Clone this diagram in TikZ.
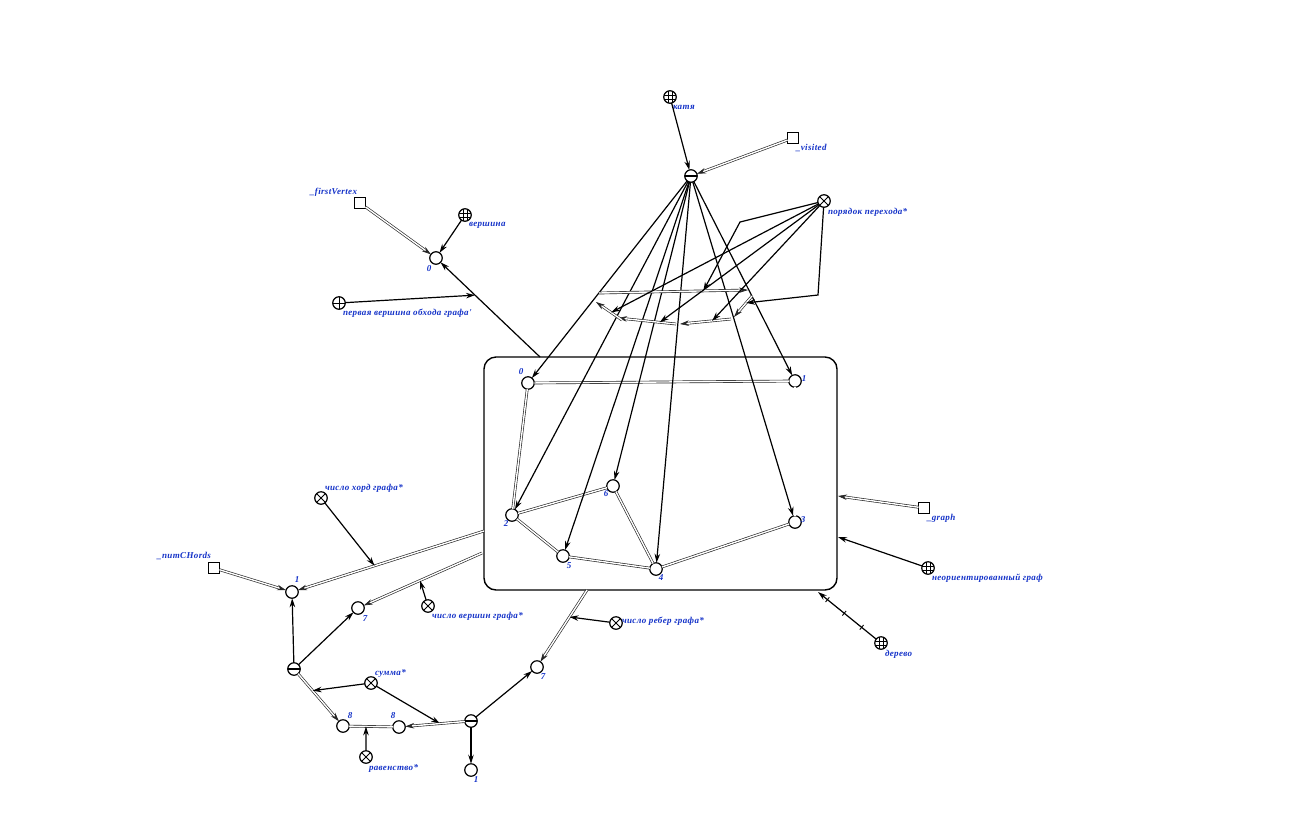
\documentclass[tikz,border=0pt]{standalone}
\usepackage{fontspec}
\setmainfont{Liberation Serif}
\newfontfamily\lblfont[LetterSpace=4]{Liberation Serif}
\usetikzlibrary{arrows.meta,calc,decorations.markings}
\definecolor{lblblue}{RGB}{20,50,200}

\tikzset{
  every node/.style={inner sep=0pt, outer sep=0pt},
  vtx/.style={circle, draw, line width=1.2pt, minimum size=12.5pt, fill=white},
  sq/.style={rectangle, draw, line width=1.2pt, minimum size=11pt, fill=white},
  xcirc/.style={vtx, path picture={
      \draw[line width=0.9pt]
        (path picture bounding box.north west)--(path picture bounding box.south east)
        (path picture bounding box.north east)--(path picture bounding box.south west);}},
  pcirc/.style={vtx, path picture={
      \draw[line width=0.9pt]
        (path picture bounding box.north)--(path picture bounding box.south)
        (path picture bounding box.west)--(path picture bounding box.east);}},
  mcirc/.style={vtx, path picture={
      \draw[line width=1.1pt]
        (path picture bounding box.west)--(path picture bounding box.east);}},
  gcirc/.style={vtx, path picture={
      \draw[line width=0.6pt]
        ([xshift=-2pt]path picture bounding box.north)--([xshift=-2pt]path picture bounding box.south)
        ([xshift=2pt]path picture bounding box.north)--([xshift=2pt]path picture bounding box.south)
        ([yshift=-2pt]path picture bounding box.west)--([yshift=-2pt]path picture bounding box.east)
        ([yshift=2pt]path picture bounding box.west)--([yshift=2pt]path picture bounding box.east);}},
  lbl/.style={font=\lblfont\bfseries\itshape\fontsize{9}{10}\selectfont, text=lblblue},
  arr/.style={draw, line width=1.2pt, -{Stealth[length=9pt,width=5.5pt]}},
  dbl/.style={draw=black!85, double=white, line width=0.65pt, double distance=1.4pt},
  dblarr/.style={dbl, -{Stealth[length=9pt,width=5.5pt]}},
  tick/.style={-, draw, line width=0.9pt},
  ticked/.style={postaction={decorate, decoration={markings,
      mark=at position 0.25 with {\draw[tick] (0,-3pt)--(0,3pt);},
      mark=at position 0.55 with {\draw[tick] (0,-3pt)--(0,3pt);},
      mark=at position 0.84 with {\draw[tick] (0,-3pt)--(0,3pt);}}}}
}

\begin{document}
\begin{tikzpicture}[x=1pt,y=-1pt]
\useasboundingbox (0,0) rectangle (1306,812);

% ---------- the graph frame and its vertices ----------
\node[draw, rounded corners=12pt, line width=1.4pt,
      minimum width=353pt, minimum height=233pt] (box) at (660.5,473.5) {};
\node[vtx] (b0) at (528,383) {};
\node[vtx] (b1) at (795,381) {};
\node[vtx] (b2) at (512,515) {};
\node[vtx] (b6) at (613,486) {};
\node[vtx] (b5) at (563,556) {};
\node[vtx] (b4) at (656,569) {};
\node[vtx] (b3) at (795,522) {};
\node[lbl] (lb0) at (521,372) {0};
\node[lbl] (lb1) at (804,379) {1};
\node[lbl] (lb2) at (506,524) {2};
\node[lbl] (lb6) at (606,494) {6};
\node[lbl] (lb5) at (569,566) {5};
\node[lbl] (lb4) at (661,578) {4};
\node[lbl] (lb3) at (803,520) {3};

\draw[dbl] (b0)--(b1);
\draw[dbl] (b0)--(b2);
\draw[dbl] (b1)--(b3);
\draw[dbl] (b2)--(b6);
\draw[dbl] (b2)--(b5);
\draw[dbl] (b6)--(b4);
\draw[dbl] (b5)--(b4);
\draw[dbl] (b4)--(b3);

% ---------- top ----------
\node[gcirc] (katya) at (670,97) {};
\node[lbl, anchor=west] (lkatya) at (673,107) {катя};
\node[sq] (visited) at (793,138) {};
\node[lbl, anchor=west] (lvisited) at (796,148) {\_visited};
\node[mcirc] (mA) at (691,176) {};
\node[xcirc] (order) at (824,201) {};
\node[lbl, anchor=west] (lorder) at (828,212) {порядок перехода*};

\draw[arr] (katya)--(mA);
\draw[dblarr] (visited)--(mA);
\foreach \t in {b0,b2,b5,b6,b4,b3,b1} \draw[arr] (mA)--(\t);

% ---------- cycle of transitions ----------
\coordinate (A1) at (599,293); \coordinate (B1) at (748,290);
\coordinate (B2) at (752,296); \coordinate (C1) at (734,317);
\coordinate (C2) at (731,319); \coordinate (D1) at (680,324);
\coordinate (D2) at (676,324); \coordinate (E1) at (618,318);
\coordinate (E2) at (622,320); \coordinate (A2) at (596,302);
\draw[dblarr] (A1)--(B1);
\draw[dblarr] (B2)--(C1);
\draw[dblarr] (C2)--(D1);
\draw[dblarr] (D2)--(E1);
\draw[dblarr] (E2)--(A2);

\coordinate (k1) at (740,222);
\coordinate (k2) at (818,295);
\draw[arr] (order)--(k1)--($(A1)!0.70!(B1)$);
\draw[arr] (order)--($(E2)!0.42!(A2)$);
\draw[arr] (order)--($(D2)!0.28!(E1)$);
\draw[arr] (order)--($(C2)!0.37!(D1)$);
\draw[arr] (order)--(k2)--($(B2)!0.33!(C1)$);

% ---------- top left ----------
\node[sq] (firstV) at (360,203) {};
\node[lbl, anchor=east] (lfirstV) at (357,192) {\_firstVertex};
\node[gcirc] (vertex) at (465,215) {};
\node[lbl, anchor=west] (lvertex) at (469,225) {вершина};
\node[vtx] (v0) at (436,258) {};
\node[lbl] (lv0) at (429,269) {0};
\node[pcirc] (first) at (339,303) {};
\node[lbl, anchor=west] (lfirst) at (343,313) {первая вершина обхода графа'};

\coordinate (bt) at (540,357);
\draw[dblarr] (firstV)--(v0);
\draw[arr] (vertex)--(v0);
\draw[arr] (bt)--(v0);
\draw[arr] (first)--($(bt)!0.625!(v0)$);

% ---------- right side ----------
\node[sq] (graph) at (924,508) {};
\node[lbl, anchor=west] (lgraph) at (927,518) {\_graph};
\node[gcirc] (undir) at (928,568) {};
\node[lbl, anchor=west] (lundir) at (932,578) {неориентированный граф};
\node[gcirc] (tree) at (881,643) {};
\node[lbl, anchor=west] (ltree) at (885,654) {дерево};
\coordinate (br1) at (838,496);
\coordinate (br2) at (838,537);
\coordinate (brc) at (818,592);
\draw[dblarr] (graph)--(br1);
\draw[arr] (undir)--(br2);
\draw[arr, ticked] (tree)--(brc);

% ---------- bottom ----------
\coordinate (bl1) at (484,531);
\coordinate (bl2) at (482,553);
\coordinate (bb) at (587,590);

\node[xcirc] (chords) at (321,498) {};
\node[lbl, anchor=west] (lchords) at (325,488) {число хорд графа*};
\node[sq] (numCH) at (214,568) {};
\node[lbl, anchor=east] (lnumCH) at (211,556) {\_numCHords};
\node[vtx] (c1) at (292,592) {};
\node[lbl] (lc1) at (297,580) {1};
\node[vtx] (n7a) at (358,608) {};
\node[lbl] (ln7a) at (365,619) {7};
\node[xcirc] (verts) at (428,606) {};
\node[lbl, anchor=west] (lverts) at (432,616) {число вершин графа*};
\node[mcirc] (mB) at (294,669) {};
\node[xcirc] (sum) at (371,683) {};
\node[lbl, anchor=west] (lsum) at (375,673) {сумма*};
\node[vtx] (e8a) at (343,726) {};
\node[lbl] (le8a) at (350,716) {8};
\node[vtx] (e8b) at (399,727) {};
\node[lbl] (le8b) at (393,716) {8};
\node[xcirc] (eq) at (366,757) {};
\node[lbl, anchor=west] (leq) at (369,768) {равенство*};
\node[mcirc] (mC) at (471,721) {};
\node[vtx] (o1) at (471,770) {};
\node[lbl] (lo1) at (476,780) {1};
\node[vtx] (n7b) at (537,667) {};
\node[lbl] (ln7b) at (543,677) {7};
\node[xcirc] (edges) at (616,623) {};
\node[lbl, anchor=west] (ledges) at (622,621) {число ребер графа*};

\draw[dblarr] (bl1)--(c1);
\draw[dblarr] (bl2)--(n7a);
\draw[dblarr] (bb)--(n7b);
\draw[dblarr] (numCH)--(c1);
\draw[arr] (chords)--($(bl1)!0.57!(c1)$);
\draw[arr] (verts)--($(bl2)!0.5!(n7a)$);
\draw[arr] (edges)--($(bb)!0.35!(n7b)$);

\draw[arr] (mB)--(c1);
\draw[arr] (mB)--(n7a);
\draw[dblarr] (mB)--(e8a);
\draw[dbl] (e8a)--(e8b);
\draw[arr] (sum)--($(mB)!0.38!(e8a)$);
\draw[arr] (sum)--($(mC)!0.43!(e8b)$);
\draw[arr] (eq)--($(e8a)!0.41!(e8b)$);
\draw[arr] (mC)--(n7b);
\draw[arr] (mC)--(o1);
\draw[dblarr] (mC)--(e8b);
\end{tikzpicture}
\end{document}
